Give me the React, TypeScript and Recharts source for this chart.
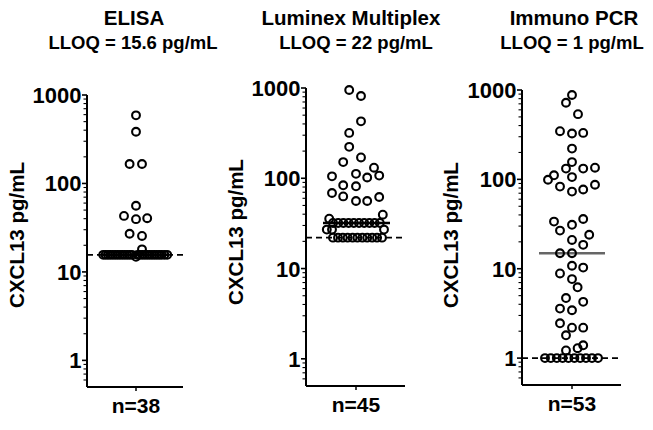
import React from 'react';
import { ScatterChart, Scatter, XAxis, YAxis, ReferenceLine } from 'recharts';

const FONT = '"Liberation Sans", Arial, Helvetica, sans-serif';

// titles and labels
const panelTitles = ['ELISA', 'Luminex Multiplex', 'Immuno PCR'];
const lloqLabels = ['LLOQ = 15.6 pg/mL', 'LLOQ = 22 pg/mL', 'LLOQ = 1 pg/mL'];
const lloqValues = [15.6, 22, 1];
const sampleCounts = ['n=38', 'n=45', 'n=53'];
const yAxisTitle = 'CXCL13 pg/mL';

// log axis ticks
const majorTicks = [1, 10, 100, 1000];
const minorTicks = [
  0.6, 0.7, 0.8, 0.9, 2, 3, 4, 5, 6, 7, 8, 9, 20, 30, 40, 50, 60, 70, 80, 90,
  200, 300, 400, 500, 600, 700, 800, 900,
];
const allTicks = [...minorTicks, ...majorTicks].sort((a, b) => a - b);

// ELISA values (pg/mL) and horizontal spread of each dot
const elisaValues = [
  589, 384, 166, 166, 56, 43, 39.5, 40.5, 27, 25.5, 18,
  15.6, 15.6, 15.6, 15.6, 15.6, 15.6, 15.6, 15.6, 15.6, 15.6,
  15.6, 15.6, 15.6, 14.8, 15.6, 15.6, 15.6, 15.6, 15.6, 15.6,
  15.6, 15.6, 15.6, 15.6, 15.6, 15.6, 15.6,
];
const elisaSpread = [
  0, 0, -1.6, 1.5, 0, -3, 0, 2.8, -1.6, 1.5, 1.5,
  -8.2, -7.6, -7, -6.4, -5.8, -5.2, -4.6, -4, -3.4, -2.8,
  -2.2, -1.6, -1, 0, 0.4, 1, 1.6, 2.2, 2.8, 3.4,
  4, 4.6, 5.2, 5.8, 6.4, 7.1, 7.8,
];

// Luminex Multiplex values
const luminexValues = [
  950, 815, 427, 318, 223, 170, 151, 131, 105, 112, 102, 107,
  83.6, 81.5, 68.7, 63, 56, 56, 62, 35.7, 39.5, 27, 27, 27,
  32, 32, 32, 32, 32, 32, 32, 32, 32, 32,
  22, 22, 22, 22, 22, 22, 22, 22, 22, 22, 22,
];
const luminexSpread = [
  -1.7, 1.25, 1.25, -1.7, -1.7, 1.25, -3.2, 4.5, -6, 0, 2.8, 5.8,
  -3.2, 0, -6, -3.2, 0, 2.8, 5.8, -6.7, 6.7, -7.3, -6, 7,
  -5.75, -4.45, -3.15, -1.85, -0.55, 0.75, 2.05, 3.35, 4.65, 5.95,
  -5.75, -4.5, -3.3, -2.1, -0.85, 0.35, 1.6, 2.8, 4.05, 5.25, 6.5,
];

// Immuno PCR values
const ipcrValues = [
  879, 720, 537, 346, 326, 331, 221, 156, 132, 132, 135, 111, 99, 106, 83, 73, 77, 87,
  33.7, 31, 36, 26.7, 24, 21, 18.5, 14.9, 14.9, 10.8, 10.3, 8.85, 7.66, 6.2,
  4.7, 4.26, 3.58, 3.43, 2.45, 2.19, 2.19, 1.8, 1.22, 1.29, 1.39,
  1, 1, 1, 1, 1, 1, 1, 1, 1, 1,
];
const ipcrSpread = [
  0, -1.5, 1.5, -3, 0, 2.8, 0, 0, -1.5, 2.8, 5.75, -4.5, -6, 0, -3, 0, 2.8, 5.75,
  -4.5, 0, 2.8, -3, 4.3, 0, 2.8, -3, 0, 0, 2.8, -3, 0, 1.4,
  -1.5, 2.8, -3, 0, -3, 0, 2.8, -1.5, -1.5, 1.4, 2.8,
  -6.75, -5.3, -3.8, -2.35, -0.9, 0.6, 2.05, 3.5, 5, 6.5,
];

const seriesValues = [elisaValues, luminexValues, ipcrValues];
const seriesSpread = [elisaSpread, luminexSpread, ipcrSpread];

// layout of each panel
const panels = [
  { left: 0, width: 216, axisW: 87, right: 33, top: 95, bottom: 387, xDomain: [-12.25, 11.75], med: [-8.3, 8.3], medColor: '#000', titleX: 134, lloqX: 133, labelX: 16.5, labelY: 235 },
  { left: 216, width: 216, axisW: 90, right: 27, top: 88, bottom: 386, xDomain: [-12.5, 12.25], med: [-8.25, 8.5], medColor: '#000', titleX: 351, lloqX: 356, labelX: 235, labelY: 232 },
  { left: 432, width: 221, axisW: 90, right: 32, top: 90, bottom: 385, xDomain: [-12.5, 12.25], med: [-8.25, 8.25], medColor: '#666', titleX: 574, lloqX: 572, labelX: 450, labelY: 235 },
];

const median = (vals: number[]) => {
  const s = [...vals].sort((a, b) => a - b);
  const m = Math.floor(s.length / 2);
  return s.length % 2 ? s[m] : (s[m - 1] + s[m]) / 2;
};

const LogTick = (props: any) => {
  const { x, y, payload } = props;
  const major = majorTicks.includes(payload.value);
  return (
    <g>
      <line x1={x - (major ? 5 : 3.5)} x2={x} y1={y} y2={y} stroke="#000" strokeWidth={major ? 1.6 : 1.1} />
      {major && (
        <text x={x - 5.5} y={y + 8} textAnchor="end" fontSize={22} fontWeight="bold" fontFamily={FONT} fill="#000">
          {payload.value}
        </text>
      )}
    </g>
  );
};

// hollow circle, like the original dot plot
const Dot = (props: any) => (
  <circle cx={props.cx} cy={props.cy} r={3.9} fill="none" stroke="#000" strokeWidth={2.1} />
);

const Panel = ({ idx }: { idx: number }) => {
  const p = panels[idx];
  const values = seriesValues[idx];
  const data = values.map((v, i) => ({ x: seriesSpread[idx][i], y: v }));
  const med = median(values);
  return (
    <div style={{ position: 'absolute', left: p.left, top: 0 }}>
      <ScatterChart width={p.width} height={430} margin={{ top: p.top, right: p.right, bottom: 0, left: 0 }}>
        <XAxis
          type="number"
          dataKey="x"
          domain={p.xDomain}
          ticks={[0]}
          interval={0}
          height={430 - p.bottom}
          axisLine={{ stroke: '#000', strokeWidth: 2 }}
          tickLine={{ stroke: '#000', strokeWidth: 1.5 }}
          tickSize={4}
          tickMargin={0}
          tick={(t: any) => (
            <text x={t.x} y={t.y + 22} textAnchor="middle" fontSize={21} fontWeight="bold" fontFamily={FONT} fill="#000">
              {sampleCounts[idx]}
            </text>
          )}
        />
        <YAxis
          type="number"
          dataKey="y"
          scale="log"
          domain={[0.5, 1000]}
          ticks={allTicks}
          interval={0}
          width={p.axisW}
          axisLine={{ stroke: '#000', strokeWidth: 2 }}
          tickLine={false}
          tickSize={0}
          tickMargin={0}
          tick={<LogTick />}
        />
        <ReferenceLine y={lloqValues[idx]} stroke="#000" strokeWidth={1.6} strokeDasharray="6 4" />
        <Scatter data={data} isAnimationActive={false} shape={<Dot />} />
        <ReferenceLine
          segment={[{ x: p.med[0], y: med }, { x: p.med[1], y: med }]}
          stroke={p.medColor}
          strokeWidth={2.5}
        />
      </ScatterChart>
    </div>
  );
};

export default function App() {
  return (
    <div style={{ position: 'absolute', left: 0, top: 0, width: 653, height: 430, background: '#fff', fontFamily: FONT }}>
      <style>{'body{margin:0}'}</style>
      {panels.map((_, i) => (
        <Panel key={i} idx={i} />
      ))}
      <svg width={653} height={430} style={{ position: 'absolute', left: 0, top: 0, pointerEvents: 'none' }}>
        {panels.map((p, i) => (
          <g key={i} fontFamily={FONT} fontWeight="bold" fill="#000">
            <text x={p.titleX} y={25} textAnchor="middle" fontSize={20.5}>{panelTitles[i]}</text>
            <text x={p.lloqX} y={49} textAnchor="middle" fontSize={18.5}>{lloqLabels[i]}</text>
            <text
              x={p.labelX}
              y={p.labelY}
              textAnchor="middle"
              dominantBaseline="central"
              fontSize={20.5}
              transform={`rotate(-90 ${p.labelX} ${p.labelY})`}
            >
              {yAxisTitle}
            </text>
          </g>
        ))}
      </svg>
    </div>
  );
}
